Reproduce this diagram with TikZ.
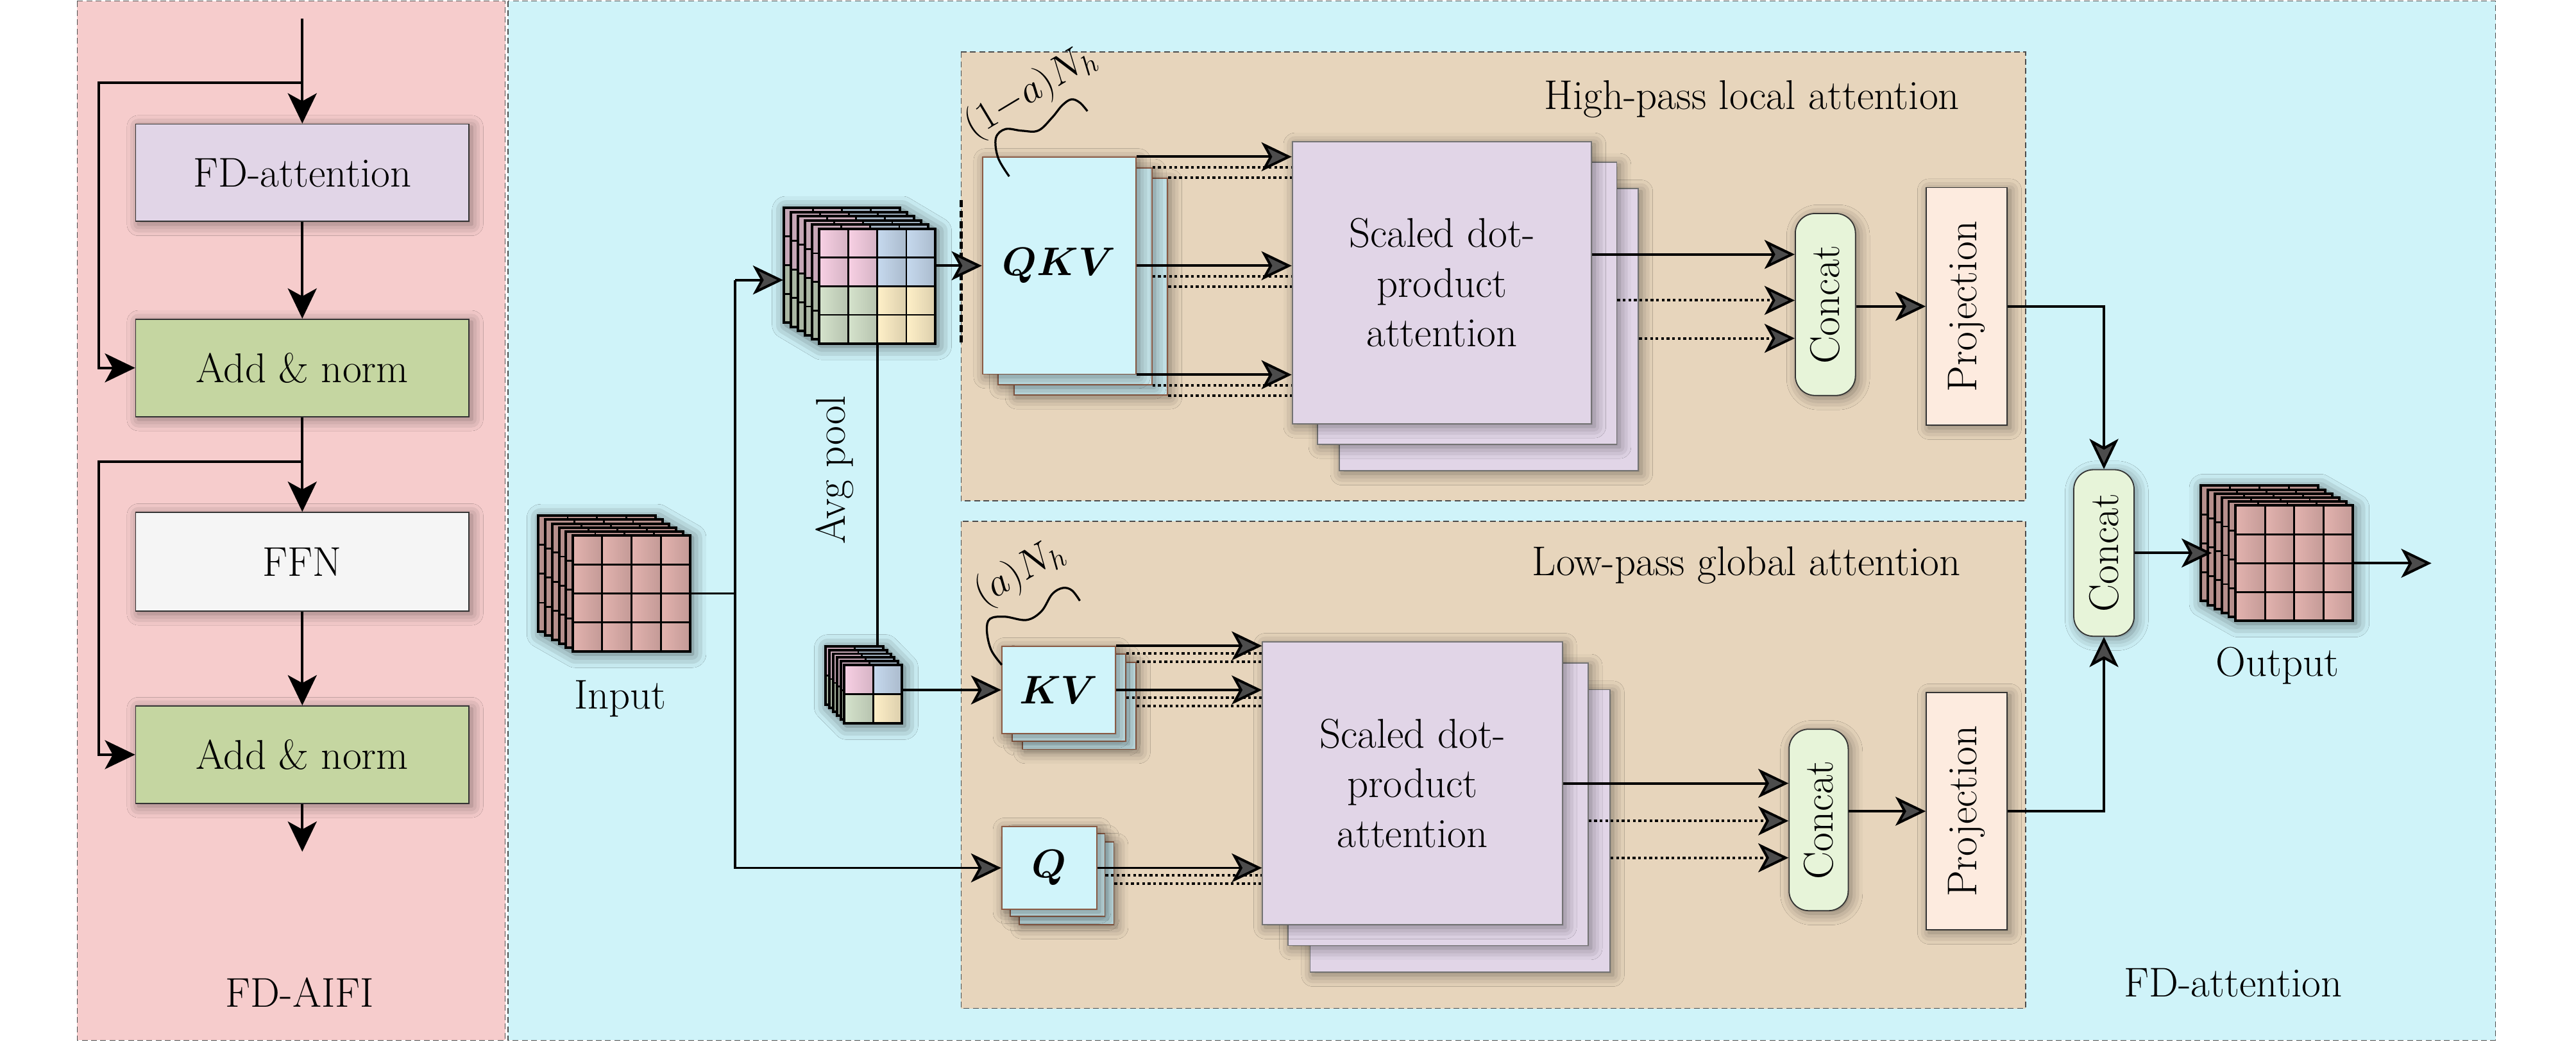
\documentclass[tikz,border=0pt]{standalone}
\usepackage{amsmath}
\usetikzlibrary{arrows.meta,shadows.blur,calc}

\definecolor{pinkbg}{HTML}{F6CCCC}
\definecolor{cyanbg}{HTML}{CFF3F9}
\definecolor{tanbg}{HTML}{E7D5BC}
\definecolor{lav}{HTML}{E1D5E7}
\definecolor{addg}{HTML}{C5D6A1}
\definecolor{ffng}{HTML}{F5F5F5}
\definecolor{catg}{HTML}{E7F4D9}
\definecolor{projc}{HTML}{FDEBDF}
\definecolor{qkvc}{HTML}{D0F4FA}
\definecolor{qkvborder}{HTML}{8A5A44}
\definecolor{cubep}{HTML}{E3B3AF}
\definecolor{qpink}{HTML}{F8D0E4}
\definecolor{qblue}{HTML}{C6D9EE}
\definecolor{qgreen}{HTML}{D5E3CC}
\definecolor{qyellow}{HTML}{FFF0C8}

\tikzset{
  ln/.style={line width=1.1pt},
  arr/.style={ln, -{Stealth[length=0.46cm,width=0.44cm,inset=0.12cm]}},
  dotl/.style={line width=1.1pt, dash pattern=on 1.2pt off 1.2pt},
  darr/.style={dotl, -{Stealth[length=0.46cm,width=0.44cm,inset=0.12cm]}},
  shd/.style={blur shadow={shadow xshift=1.2pt, shadow yshift=-1.2pt, shadow blur radius=5pt, shadow opacity=45}},
  cubeshd/.style={blur shadow={shadow xshift=1pt, shadow yshift=-1pt, shadow blur radius=6pt, shadow opacity=60}},
  sz/.style 2 args={minimum width=#1*0.025cm, minimum height=#2*0.025cm},
  blk/.style={draw=black!80, line width=0.5pt, inner sep=0pt, shd},
  qbox/.style={draw=qkvborder, line width=0.5pt, fill=qkvc, inner sep=0pt, shd},
  qback/.style={qbox, fill=qkvc!88!gray},
  sdbox/.style={draw=black!55, line width=0.5pt, fill=lav, inner sep=0pt, shd, align=center},
  catbox/.style={draw=black!80, line width=0.5pt, fill=catg, rounded corners=0.3cm, inner sep=0pt, shd},
  projbox/.style={draw=black!80, line width=0.5pt, fill=projc, inner sep=0pt, shd},
  panel/.style={draw=black!70, line width=0.4pt, dash pattern=on 2.5pt off 1.5pt},
  txt/.style={inner sep=0pt},
  squig/.style={line width=0.9pt},
}

% #1 name, #2 x front-left, #3 y front-top, #4 w, #5 h, #6 total dx back, #7 total dy back, #8 grid n
\newcommand{\featstack}[8]{%
  \pgfmathsetmacro\fsx{#2}\pgfmathsetmacro\fsy{#3}%
  \pgfmathsetmacro\fsw{#4}\pgfmathsetmacro\fsh{#5}%
  \pgfmathsetmacro\fsdx{#6/5}\pgfmathsetmacro\fsdy{#7/5}%
  \pgfmathtruncatemacro\fsn{#8}\pgfmathtruncatemacro\fsm{#8-1}%
  \path[cubeshd] (\fsx-#6,\fsy-#7) -- (\fsx-#6+\fsw,\fsy-#7) -- (\fsx+\fsw,\fsy) -- (\fsx+\fsw,\fsy+\fsh) -- (\fsx,\fsy+\fsh) -- (\fsx-#6,\fsy-#7+\fsh) -- cycle;
  \foreach \k in {5,4,3,2,1}{%
    \pgfmathsetmacro\lx{\fsx-\k*\fsdx}\pgfmathsetmacro\ly{\fsy-\k*\fsdy}%
    \fill[qa!80!black] (\lx,\ly) rectangle ++(\fsw/2,\fsh/2);
    \fill[qb!80!black] (\lx+\fsw/2,\ly) rectangle ++(\fsw/2,\fsh/2);
    \fill[qc!80!black] (\lx,\ly+\fsh/2) rectangle ++(\fsw/2,\fsh/2);
    \fill[qd!80!black] (\lx+\fsw/2,\ly+\fsh/2) rectangle ++(\fsw/2,\fsh/2);
    \foreach \i in {1,...,\fsm}{%
      \draw[line width=0.8pt] (\lx+\i*\fsw/\fsn,\ly) -- ++(0,\fsh);
      \draw[line width=0.8pt] (\lx,\ly+\i*\fsh/\fsn) -- ++(\fsw,0);
    }
    \draw[line width=1.1pt] (\lx,\ly) rectangle ++(\fsw,\fsh);
  }
  \foreach \i in {1,...,\fsn}{%
    \foreach \j in {1,...,\fsn}{%
      \pgfmathtruncatemacro\qi{(\i>\fsn/2)+2*(\j>\fsn/2)}%
      \ifcase\qi\relax\colorlet{cc}{qa}\or\colorlet{cc}{qb}\or\colorlet{cc}{qc}\else\colorlet{cc}{qd}\fi
      \shade[left color=cc, right color=cc!86!black] (\fsx+\i*\fsw/\fsn-\fsw/\fsn,\fsy+\j*\fsh/\fsn-\fsh/\fsn) rectangle ++(\fsw/\fsn,\fsh/\fsn);
    }
  }
  \foreach \i in {1,...,\fsm}{%
    \draw[line width=0.8pt] (\fsx+\i*\fsw/\fsn,\fsy) -- ++(0,\fsh);
    \draw[line width=0.8pt] (\fsx,\fsy+\i*\fsh/\fsn) -- ++(\fsw,0);
  }
  \draw[line width=1.1pt] (\fsx,\fsy) rectangle ++(\fsw,\fsh);
  \node[inner sep=0pt, sz={\fsw}{\fsh}] (#1) at (\fsx+\fsw/2,\fsy+\fsh/2) {};
  \node[inner sep=0pt, sz={\fsw}{\fsh}] (#1b) at (\fsx-#6+\fsw/2,\fsy-#7+\fsh/2) {};
}

\begin{document}
\begin{tikzpicture}[x=0.025cm, y=-0.025cm, font=\fontsize{18}{21.6}\selectfont]
\useasboundingbox (0,0) rectangle (1568,634.4);
\fill[white] (0,0) rectangle (1568,634.4);

% panels
\path[panel, fill=pinkbg] (47,0.6) rectangle (307.5,633.4);
\path[panel, fill=cyanbg] (309.3,0.6) rectangle (1519,633.4);
\path[panel, fill=tanbg] (585,31.7) rectangle (1233,305);
\path[panel, fill=tanbg] (585,317.5) rectangle (1233,614);
\draw[line width=1.3pt, dash pattern=on 3pt off 1.5pt] (585,122) -- (585,208.6);

% ---------- FD-AIFI ----------
\node[blk, fill=lav, sz={202.8}{59.3}] (fda) at (184,105.2) {FD-attention};
\node[blk, fill=addg, sz={202.8}{59.3}] (an1) at (184,224) {Add \& norm};
\node[blk, fill=ffng, sz={202.8}{60}] (ffn) at (184,342) {FFN};
\node[blk, fill=addg, sz={202.8}{59.3}] (an2) at (184,459.5) {Add \& norm};
\node[txt, anchor=base] (aifi) at (182.4,613) {FD-AIFI};

\coordinate (ain) at (184,11.3);
\coordinate (s1) at (184,50.5);
\coordinate (l1) at (60,50.5);
\coordinate (s2) at (184,281);
\coordinate (l2) at (60,281);
\coordinate (aout) at (184,518.6);
\draw[arr] (ain) -- (fda.north);
\draw[arr] (s1) -- (l1) |- (an1.west);
\draw[arr] (fda.south) -- (an1.north);
\draw[arr] (an1.south) -- (ffn.north);
\draw[arr] (s2) -- (l2) |- (an2.west);
\draw[arr] (ffn.south) -- (an2.north);
\draw[arr] (an2.south) -- (aout);

% ---------- feature cubes ----------
\colorlet{qa}{cubep}\colorlet{qb}{cubep}\colorlet{qc}{cubep}\colorlet{qd}{cubep}
\featstack{inc}{348.7}{326}{71.3}{70.7}{21}{12}{4}
\featstack{outc}{1360.8}{307.8}{71.5}{70.3}{21.2}{12.1}{4}
\colorlet{qa}{qpink}\colorlet{qb}{qblue}\colorlet{qc}{qgreen}\colorlet{qd}{qyellow}
\featstack{tc}{498.5}{139.3}{70.9}{69.9}{21.5}{12.8}{4}
\featstack{sc}{514}{405}{35}{35.5}{11.4}{11.6}{2}

\node[txt, anchor=base] (inlbl) at (377.5,431.5) {Input};
\node[txt, anchor=base] (outlbl) at (1386.3,411.6) {Output};
\node[txt, rotate=90] (avg) at (508,286) {Avg pool};

% ---------- high-pass ----------
\node[qback, sz={93.5}{132}] (qkv3) at (644.75+19.2,161.8+12.6) {};
\node[qback, sz={93.5}{132}] (qkv2) at (644.75+9.6,161.8+6.4) {};
\node[qbox, sz={93.5}{132}] (qkv) at (644.75,161.8) {$\boldsymbol{QKV}$};

\node[sdbox, sz={182.2}{171.8}] (sh3) at (877.7+28.5,172.1+28.7) {};
\node[sdbox, sz={182.2}{171.8}] (sh2) at (877.7+15.3,172.1+12.5) {};
\node[sdbox, sz={182.2}{171.8}] (sdh) at (877.7,172.1) {Scaled dot-\\product\\attention};

\node[catbox, sz={36.6}{110.8}] (cch) at (1111.1,185.4) {\rotatebox{90}{Concat}};
\node[projbox, sz={49.3}{144.7}] (prh) at (1197.15,186.55) {\rotatebox{90}{Projection}};
\node[txt, anchor=base east] (tth) at (1193,66.5) {High-pass local attention};

% ---------- low-pass ----------
\node[qback, sz={69.2}{53}] (kv3) at (644.4+12.5,420.1+9.6) {};
\node[qback, sz={69.2}{53}] (kv2) at (644.4+6.2,420.1+4.6) {};
\node[qbox, sz={69.2}{53}] (kv) at (644.4,420.1) {$\boldsymbol{KV}$};

\node[qback, sz={57.7}{50.3}] (q3) at (638.65+10.5,528.45+9.4) {};
\node[qback, sz={57.7}{50.3}] (q2) at (638.65+5,528.45+4.4) {};
\node[qbox, sz={57.7}{50.3}] (q) at (638.65,528.45) {$\boldsymbol{Q}$};

\node[sdbox, sz={182.5}{172.1}] (sl3) at (859.75+29,476.95+29) {};
\node[sdbox, sz={182.5}{172.1}] (sl2) at (859.75+15.6,476.95+12.7) {};
\node[sdbox, sz={182.5}{172.1}] (sdl) at (859.75,476.95) {Scaled dot-\\product\\attention};

\node[catbox, sz={36}{110.5}] (ccl) at (1107,499.25) {\rotatebox{90}{Concat}};
\node[projbox, sz={49.3}{144.5}] (prl) at (1197.15,493.95) {\rotatebox{90}{Projection}};
\node[txt, anchor=base east] (ttl) at (1193.5,350.3) {Low-pass global attention};

% ---------- merge ----------
\node[catbox, sz={36.7}{101.4}] (oc) at (1280.65,336.7) {\rotatebox{90}{Concat}};
\node[txt, anchor=base] (fdat) at (1359.2,607) {FD-attention};

% ---------- connectors ----------
\coordinate (jt) at (447.5,170.5);
\draw[ln] (inc.east) -- (inc.east -| jt);
\draw[arr] (jt) -- (jt -| tcb.west);
\draw[arr] (jt) |- (q.west);
\draw[arr] (tc.east |- qkv) -- (qkv.west);
\draw[ln] (tc.south) -- (tc.south |- scb.north);
\draw[arr] (sc.east |- kv) -- (kv.west);

% QKV -> SDPA high
\foreach \a in {north east, east, south east}{
  \draw[dotl] (qkv3.\a) -- (qkv3.\a -| sdh.west);
  \draw[dotl] (qkv2.\a) -- (qkv2.\a -| sdh.west);
  \draw[arr] (qkv.\a) -- (qkv.\a -| sdh.west);
}
% SDPA high -> concat
\coordinate (h1) at ($(sdh.east)+(0,-17.2)$);
\coordinate (h2) at ($(sh2.east)+(0,-1.7)$);
\coordinate (h3) at ($(sh3.east)+(0,5.2)$);
\draw[arr] (h1) -- (h1 -| cch.west);
\draw[darr] (h2) -- (h2 -| cch.west);
\draw[darr] (h3) -- (h3 -| cch.west);
\draw[arr] (cch.east |- prh) -- (prh.west);
\draw[arr] (prh.east) -| (oc.north);

% KV, Q -> SDPA low
\foreach \a in {north east, east}{
  \draw[dotl] (kv3.\a) -- (kv3.\a -| sdl.west);
  \draw[dotl] (kv2.\a) -- (kv2.\a -| sdl.west);
  \draw[arr] (kv.\a) -- (kv.\a -| sdl.west);
}
\draw[dotl] (q3.east) -- (q3.east -| sdl.west);
\draw[dotl] (q2.east) -- (q2.east -| sdl.west);
\draw[arr] (q.east) -- (q.east -| sdl.west);

% SDPA low -> concat
\coordinate (lo2) at ($(sl2.east)+(0,10.15)$);
\coordinate (lo3) at ($(sl3.east)+(0,16.35)$);
\draw[arr] (sdl.east) -- (sdl.east -| ccl.west);
\draw[darr] (lo2) -- (lo2 -| ccl.west);
\draw[darr] (lo3) -- (lo3 -| ccl.west);
\draw[arr] (ccl.east |- prl) -- (prl.west);
\draw[arr] (prl.east) -| (oc.south);

% concat -> output
\coordinate (octmp) at (outcb.west |- oc.east);
\coordinate (ocin) at ($(octmp)+(7,0)$);
\draw[arr] (oc.east) -- (ocin);
\coordinate (outend) at (1480,342.95);
\draw[arr] (outc.east) -- (outend);

% ---------- head-count annotations ----------
\draw[squig] plot[smooth, tension=0.6] coordinates {(614.3,107.4) (607.5,96) (606.2,84) (612,78.6) (622,79.6) (632,79.5) (640.4,71.6) (646.5,64.2) (652.1,60.5) (657.3,62.5) (661.9,67.7)};
\node[txt, rotate=31] (nh1) at (627.4,56) {$(1{-}a)N_h$};
\draw[squig] plot[smooth, tension=0.6] coordinates {(609.8,404.8) (603.3,395.7) (600.7,384) (602.6,376.8) (611.7,375.5) (624.8,377.5) (633.9,372.2) (640.4,361.8) (646.9,358) (652.5,359.5) (657.3,365.8)};
\node[txt, rotate=30] (nh2) at (620.9,348.8) {$(a)N_h$};
\end{tikzpicture}
\end{document}
